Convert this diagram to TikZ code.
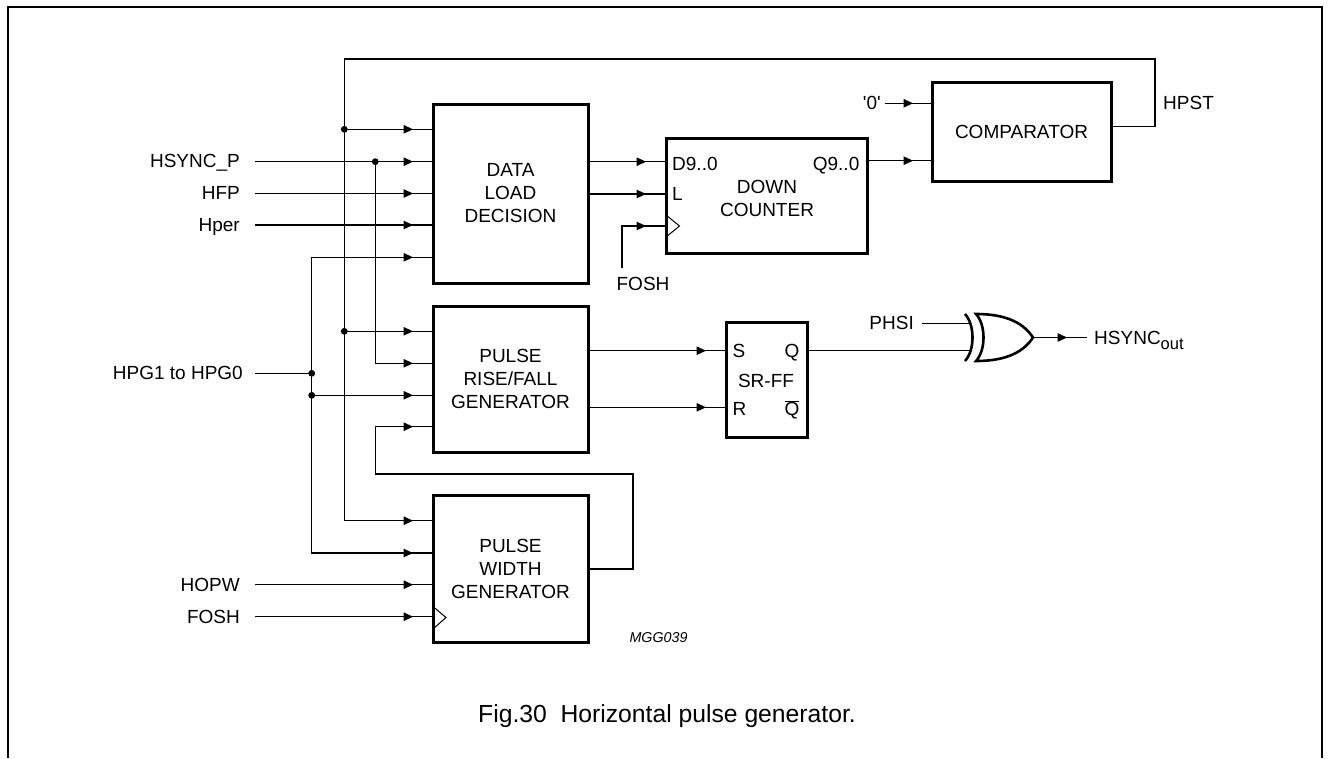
\documentclass[tikz,border=0pt]{standalone}
\usepackage{fontspec}
\setmainfont{Liberation Sans}
\begin{document}
\begin{tikzpicture}[x=1pt,y=-1pt,
  wire/.style={line width=1.2pt},
  blk/.style={draw,line width=3pt,minimum width=155,minimum height=146,inner sep=0pt,align=center,font=\fontsize{19}{23}\selectfont},
  lbl/.style={inner sep=0pt,font=\fontsize{19}{23}\selectfont},
  dot/.style={circle,fill,inner sep=0pt,minimum size=6.8},
  ah/.pic={\fill (0,0) -- (-9.5,-4.4) -- (-9.5,4.4) -- cycle;}]
\useasboundingbox (0,0) rectangle (1329,758);
% frame
\draw[line width=1.5pt] (8,758) -- (8,7) -- (1322,7) -- (1322,758);

% blocks
\node[blk,minimum height=179] (dld) at (510.5,193.5) {DATA\\LOAD\\DECISION};
\node[blk,minimum width=201,minimum height=115] (dc) at (766.5,196) {};
\node[blk,minimum width=179,minimum height=99] (comp) at (1021.5,131.5) {COMPARATOR};
\node[blk] (prfg) at (510.5,379) {PULSE\\RISE/FALL\\GENERATOR};
\node[blk,minimum height=147] (pwg) at (510.5,568.5) {PULSE\\WIDTH\\GENERATOR};
\node[blk,minimum width=81,minimum height=115] (srff) at (766.5,379.5) {};

% down counter labels
\node[lbl,anchor=base west] (dcd) at (672,170) {D9..0};
\node[lbl,anchor=base west] (dcl) at (672,200.5) {L};
\node[lbl,anchor=base east] (dcq) at (859.5,170) {Q9..0};
\node[lbl,align=center] (dct) at (767,198) {DOWN\\COUNTER};
\draw[line width=1pt] (666,215) -- (679.5,226) -- (666,237);

% SR-FF labels
\node[lbl,anchor=base west] (srs) at (732.5,357.5) {S};
\node[lbl,anchor=base east] (srq) at (799.5,357.5) {Q};
\node[lbl] (srt) at (766,380.5) {SR-FF};
\node[lbl,anchor=base west] (srr) at (732.5,415.5) {R};
\node[lbl,anchor=base east] (srqb) at (799.5,415.5) {$\overline{\mbox{Q}}$};

% PWG clock triangle
\draw[line width=1pt] (433,606.5) -- (446,617.5) -- (433,629);

% left labels
\node[lbl,anchor=base east] (lhs) at (240,167.8) {HSYNC\_P};
\node[lbl,anchor=base east] (lhfp) at (240,199.8) {HFP};
\node[lbl,anchor=base east] (lhper) at (240,231.3) {Hper};
\node[lbl,anchor=base east] (lhpg) at (243,379.5) {HPG1 to HPG0};
\node[lbl,anchor=base east] (lhopw) at (240,591.3) {HOPW};
\node[lbl,anchor=base east] (lfosh) at (240,623.3) {FOSH};

% other labels
\node[lbl] (lfosh2) at (643,284) {FOSH};
\node[lbl,anchor=base east] (lzero) at (881,109.5) {\textquotesingle0\textquotesingle};
\node[lbl,anchor=base west] (lhpst) at (1163,109) {HPST};
\node[lbl,anchor=base east] (lphsi) at (914,329.5) {PHSI};
\node[lbl,anchor=base west] (lout) at (1094,344) {HSYNC\raisebox{-5pt}{\fontsize{16.5}{18}\selectfont out}};
\node[inner sep=0pt,anchor=base,font=\fontsize{14.3}{16}\selectfont\itshape] (mgg) at (658.5,642.7) {MGG039};
\node[inner sep=0pt,anchor=base,font=\fontsize{24.7}{28}\selectfont] (cap) at (667,722.7) {Fig.30\ \ Horizontal pulse generator.};

% coordinates
\coordinate (iHS) at (255,161.7);
\coordinate (iHFP) at (255,193.5);
\coordinate (iHper) at (255,225);
\coordinate (iHPG) at (255,373.3);
\coordinate (iHOPW) at (255,584.7);
\coordinate (iFOSH) at (255,616.7);
\coordinate (jA1) at (344.3,129.3);
\coordinate (jA2) at (344.3,331.3);
\coordinate (jB) at (375.3,161.7);
\coordinate (jC1) at (311.7,373.3);
\coordinate (jC2) at (311.7,395.3);

% feedback HPST bus
\draw[wire] (comp.east |- 0,126.7) -- (1155,126.7) -- (1155,59) -- (344.3,59) -- (344.3,520.7) -- (pwg.west |- 0,520.7);
\draw[wire] (jA1) -- (dld.west |- jA1);
\draw[wire] (jA2) -- (prfg.west |- jA2);
% left inputs
\draw[wire] (iHS) -- (dld.west |- iHS);
\draw[wire] (iHFP) -- (dld.west |- iHFP);
\draw[wire] (iHper) -- (dld.west |- iHper);
\draw[wire] (dld.west |- 0,257.3) -- (311.7,257.3) -- (311.7,553) -- (pwg.west |- 0,553);
\draw[wire] (jB) -- (375.3,363.3) -- (prfg.west |- 0,363.3);
\draw[wire] (iHPG) -- (jC1);
\draw[wire] (jC2) -- (prfg.west |- jC2);
\draw[wire] (pwg.east |- 0,569) -- (633,569) -- (633,474) -- (375.3,474) -- (375.3,426.7) -- (prfg.west |- 0,426.7);
\draw[wire] (iHOPW) -- (pwg.west |- iHOPW);
\draw[wire] (iFOSH) -- (pwg.west |- iFOSH);
\foreach \y in {129.3,161.7,193.5,225,257.3,331.3,363.3,395.3,426.7,520.7,553,584.7,616.7}
  \pic at (413,\y) {ah};
% dots
\foreach \p in {jA1,jA2,jB,jC1,jC2} \node[dot] at (\p) {};

% DLD to DC
\draw[wire] (dld.east |- 0,161.7) -- (dc.west |- 0,161.7);
\draw[wire] (dld.east |- 0,194) -- (dc.west |- 0,194);
\draw[wire] (622,268) -- (622,226) -- (dc.west |- 0,226);
\pic at (646,161.7) {ah};
\pic at (646,194) {ah};
\pic at (646,226) {ah};

% DC to comparator
\draw[wire] (dc.east |- 0,160.7) -- (comp.west |- 0,160.7);
\draw[wire] (885,103.3) -- (comp.west |- 0,103.3);
\pic at (913,160.7) {ah};
\pic at (913,103.3) {ah};

% PRFG to SR-FF
\draw[wire] (prfg.east |- 0,350.7) -- (srff.west |- 0,350.7);
\draw[wire] (prfg.east |- 0,407.3) -- (srff.west |- 0,407.3);
\pic at (706,350.7) {ah};
\pic at (706,407.3) {ah};

% XOR gate
\coordinate (xin1) at (969,323.3);
\coordinate (xin2) at (970,350.7);
\coordinate (xout) at (1033,337.5);
\draw[line width=2.6pt] (976,314) .. controls (1008,314) and (1024,324) .. (xout) .. controls (1024,351) and (1008,361) .. (976,361) .. controls (986,350) and (986,325) .. (976,314) -- cycle;
\draw[line width=2.6pt] (965,314) .. controls (975,325) and (975,350) .. (965,361);
\draw[wire] (srff.east |- xin2) -- (xin2);
\draw[wire] (922,323.3) -- (xin1);
\draw[wire] (xout) -- (1087,337.5);
\pic at (1067,337.5) {ah};
\end{tikzpicture}
\end{document}
